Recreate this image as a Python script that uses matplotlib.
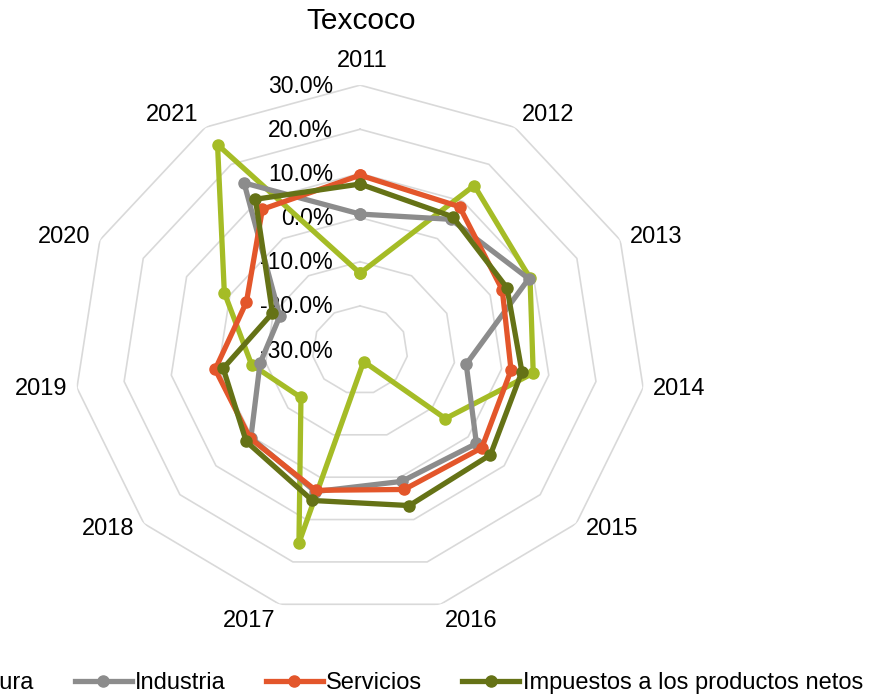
import numpy as np
import matplotlib.pyplot as plt

plt.rcParams['font.family'] = ['Liberation Sans', 'DejaVu Sans']

years = ['2011', '2012', '2013', '2014', '2015', '2016', '2017', '2018', '2019', '2020', '2021']
agricultura = [-12.6, 14.3, 9.2, 6.7, -6.3, -27.3, 15.5, -13.6, -7.0, 1.3, 25.3]
industria = [0.8, 5.2, 8.9, -7.5, 2.3, 1.0, 3.4, 0.3, -8.8, -11.5, 15.0]
servicios = [9.6, 8.6, 2.8, 2.0, 3.8, 2.9, 3.1, 0.5, 0.7, -3.8, 7.9]
impuestos = [7.6, 5.9, 3.9, 4.3, 6.2, 6.7, 5.5, 1.6, -1.0, -9.8, 10.6]
ticks = [-30, -20, -10, 0, 10, 20, 30]

series = [('Agricultura', agricultura, '#A5BC26'),
          ('Industria', industria, '#8C8C8C'),
          ('Servicios', servicios, '#E3562B'),
          ('Impuestos a los productos netos', impuestos, '#657216')]

n = len(years)
theta = np.arange(n) * 2 * np.pi / n
theta_c = np.append(theta, theta[0])

fig = plt.figure(figsize=(8.72, 7), dpi=100)
ax = fig.add_axes([0.0849, 0.1214, 0.656, 0.757], projection='polar')
ax.set_aspect('auto')
ax.set_theta_offset(np.pi / 2)
ax.set_theta_direction(-1)
ax.set_ylim(ticks[0], ticks[-1])
ax.grid(False)
ax.spines['polar'].set_visible(False)
ax.set_xticks([])
ax.set_yticks([])

# anillos poligonales
for t in ticks[1:]:
    ax.plot(theta_c, [t] * (n + 1), color='#D9D9D9', lw=1.2, zorder=1)

# etiquetas del eje radial
for t in ticks:
    ax.annotate(f'{t:.1f}%', xy=(0, t), xytext=(-27, -1), textcoords='offset pixels',
                ha='right', va='center', fontsize=16.5, annotation_clip=False, zorder=2)

# etiquetas de categorias
for th, yr in zip(theta, years):
    s, c = np.sin(th), np.cos(th)
    side = 'left' if s > 0 else 'right'
    sg = 1 if s > 0 else -1
    if abs(s) < 0.1:
        ha, va, off = 'center', 'bottom', (2, 13)
    elif c < -0.9:
        ha, va, off = side, 'top', (4 * sg, -6)
    elif c > 0.8:
        ha, va, off = side, 'bottom', (7 * sg, 1)
    else:
        ha, va, off = side, 'center', (10 * sg, c * 8)
    ax.annotate(yr, xy=(th, ticks[-1]), xytext=off, textcoords='offset pixels',
                ha=ha, va=va, fontsize=17, annotation_clip=False)

for name, vals, col in series:
    v = np.append(vals, vals[0])
    ax.plot(theta_c, v, color=col, lw=3.8, marker='o', ms=8, label=name, zorder=3)

fig.text(361.5 / 872, 1 - 21 / 700, 'Texcoco', ha='center', va='center', fontsize=21.5)

handles, labels = ax.get_legend_handles_labels()
fig.legend(handles, labels, loc='center', bbox_to_anchor=(362 / 872, 1 - 683 / 700),
           ncol=4, frameon=False, fontsize=17, handlelength=2.4, handletextpad=0.15,
           columnspacing=1.7, borderpad=0, borderaxespad=0)

fig.savefig('out.png', dpi=100)
